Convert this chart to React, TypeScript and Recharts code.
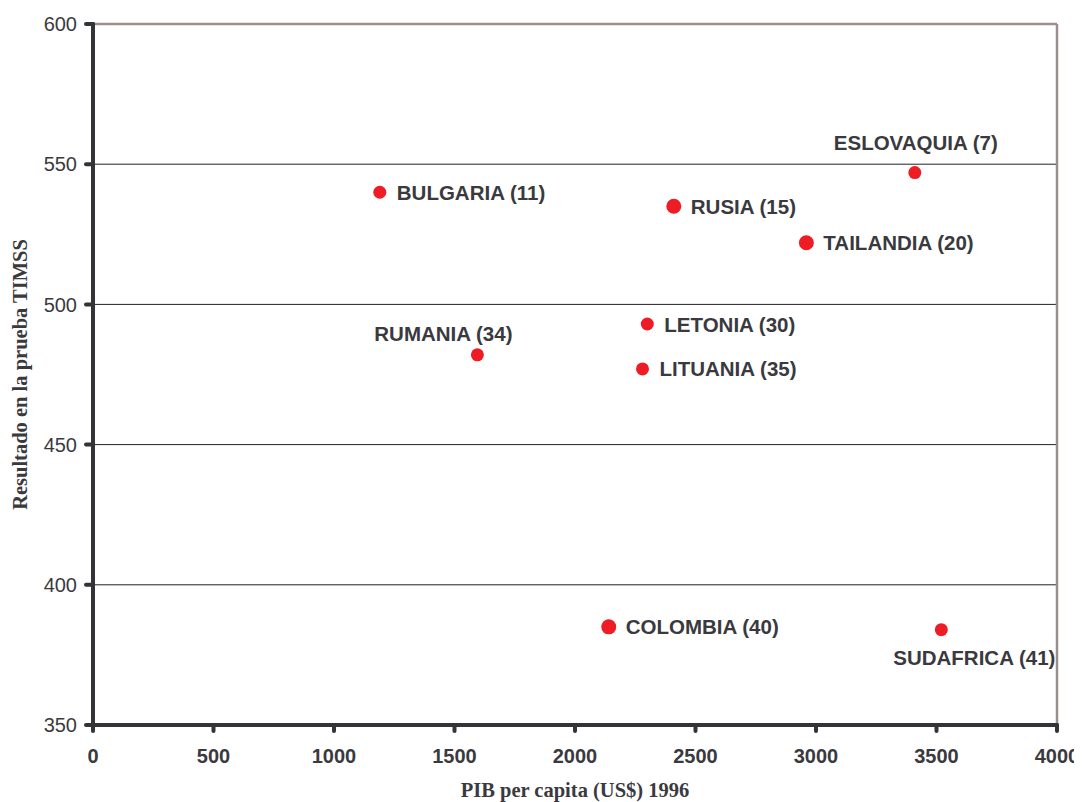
import {
  CartesianGrid,
  ReferenceLine,
  Scatter,
  ScatterChart,
  XAxis,
  YAxis,
  Label,
  LabelList,
} from 'recharts';

const COUNTRIES = ['ESLOVAQUIA', 'BULGARIA', 'RUSIA', 'TAILANDIA', 'LETONIA', 'RUMANIA', 'LITUANIA', 'COLOMBIA', 'SUDAFRICA'];
const RANKS = [7, 11, 15, 20, 30, 34, 35, 40, 41];
const PIB = [3410, 1190, 2410, 2960, 2300, 1595, 2280, 2140, 3520];
const TIMSS = [547, 540, 535, 522, 493, 482, 477, 385, 384];

const X_TICKS = [0, 500, 1000, 1500, 2000, 2500, 3000, 3500, 4000];
const Y_TICKS = [350, 400, 450, 500, 550, 600];

// a few markers are drawn slightly bigger in the original
const BIG = ['RUSIA', 'TAILANDIA', 'COLOMBIA'];

// label placement relative to the marker
const LABEL_POS: Record<string, { dx: number; dy: number; anchor: 'start' | 'middle' }> = {
  ESLOVAQUIA: { dx: 1, dy: -30, anchor: 'middle' },
  RUMANIA: { dx: -34, dy: -21, anchor: 'middle' },
  SUDAFRICA: { dx: 33, dy: 28, anchor: 'middle' },
};

const data = COUNTRIES.map((name, i) => ({
  name,
  pib: PIB[i],
  timss: TIMSS[i],
  label: `${name} (${RANKS[i]})`,
}));

const AXIS = '#333338';
const TEXT = '#3a3a3e';
const BORDER = '#9c8e8c';
const SANS = '"Liberation Sans", Arial, sans-serif';
const SERIF = '"Liberation Serif", "Times New Roman", serif';

const Dot = (props: any) => {
  const { cx, cy, payload } = props;
  const r = BIG.includes(payload.name) ? 7.5 : 6.5;
  return <circle cx={cx} cy={cy} r={r} fill="#ee1c25" />;
};

const PointLabel = (props: any) => {
  const { x, y, width, height, value } = props;
  const cx = x + width / 2;
  const cy = y + height / 2;
  const key = String(value).split(' ')[0];
  const pos = LABEL_POS[key] || { dx: 17, dy: 0, anchor: 'start' };
  return (
    <text
      x={cx + pos.dx}
      y={cy + pos.dy}
      textAnchor={pos.anchor}
      dominantBaseline="central"
      fontFamily={SANS}
      fontWeight="bold"
      fontSize={20.5}
      fill={TEXT}
    >
      {value}
    </text>
  );
};

const App = () => {
  return (
    <ScatterChart width={1074} height={794} margin={{ top: 16, right: 25, bottom: 17, left: 0 }}>
      <CartesianGrid vertical={false} stroke="#222" strokeWidth={1} />
      <XAxis
        type="number"
        dataKey="pib"
        domain={[0, 4000]}
        ticks={X_TICKS}
        height={60}
        axisLine={{ stroke: AXIS, strokeWidth: 4, strokeLinecap: 'round' }}
        tickLine={{ stroke: AXIS, strokeWidth: 4, strokeLinecap: 'round' }}
        tickSize={6}
        tickMargin={18}
        tick={{ fill: TEXT, fontSize: 20, fontWeight: 'bold', fontFamily: SANS }}
      >
        <Label
          content={({ viewBox }: any) => (
            <text
              x={viewBox.x + viewBox.width / 2}
              y={782}
              textAnchor="middle"
              dominantBaseline="central"
              fontFamily={SERIF}
              fontWeight="bold"
              fontSize={20.5}
              fill={TEXT}
            >
              PIB per capita (US$) 1996
            </text>
          )}
        />
      </XAxis>
      <YAxis
        type="number"
        dataKey="timss"
        domain={[350, 600]}
        ticks={Y_TICKS}
        width={85}
        axisLine={{ stroke: AXIS, strokeWidth: 4, strokeLinecap: 'round' }}
        tickLine={{ stroke: AXIS, strokeWidth: 4, strokeLinecap: 'round' }}
        tickSize={7}
        tickMargin={9}
        tick={{ fill: TEXT, fontSize: 20, fontFamily: SANS }}
      >
        <Label
          content={({ viewBox }: any) => {
            const cx = 12;
            const cy = viewBox.y + viewBox.height / 2;
            return (
              <text
                x={cx}
                y={cy}
                transform={`rotate(-90, ${cx}, ${cy})`}
                textAnchor="middle"
                dominantBaseline="central"
                fontFamily={SERIF}
                fontWeight="bold"
                fontSize={20.5}
                fill={TEXT}
              >
                Resultado en la prueba TIMSS
              </text>
            );
          }}
        />
      </YAxis>
      <ReferenceLine y={600} stroke={BORDER} strokeWidth={2.5} />
      <ReferenceLine x={4000} stroke={BORDER} strokeWidth={2.5} />
      <Scatter data={data} shape={<Dot />} isAnimationActive={false}>
        <LabelList dataKey="label" content={<PointLabel />} />
      </Scatter>
    </ScatterChart>
  );
};

export default App;
